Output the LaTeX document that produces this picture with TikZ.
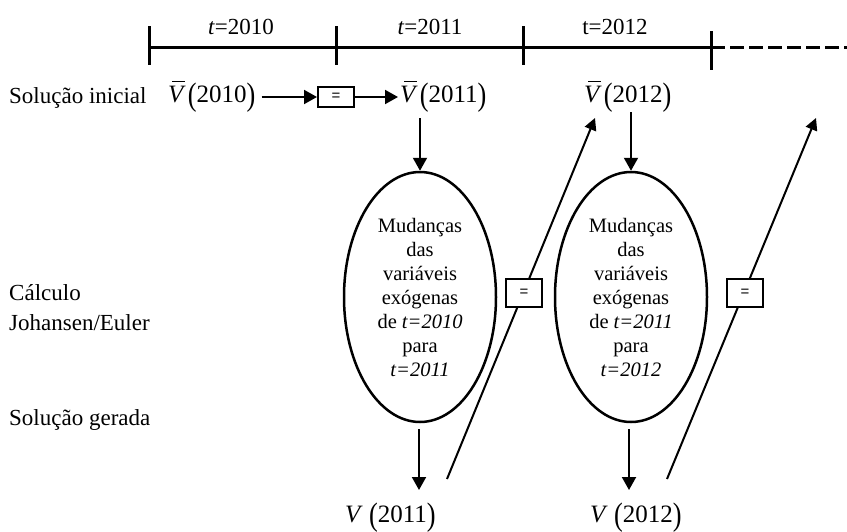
\documentclass[tikz,border=0pt]{standalone}
\usepackage{fontspec}
\usepackage{graphicx}
\setmainfont{Liberation Serif}
\newfontfamily\sansf{Liberation Sans}
\usetikzlibrary{arrows.meta,shapes.geometric}

% V with a bar over it, and tall parentheses
\newcommand\Vb{\makebox[0pt][l]{\kern0.17em\rule[0.80em]{0.5em}{0.05em}}\textit{V}}
\newcommand\pl{\kern0.08em\raisebox{-0.14em}{\scalebox{1.05}[1.3]{(}}}
\newcommand\pr{\raisebox{-0.14em}{\scalebox{1.05}[1.3]{)}}}

\begin{document}
\begin{tikzpicture}[x=1pt,y=-1pt,
  timeline/.style={line width=3pt},
  tickmark/.style={line width=3pt},
  conn/.style={line width=2pt,-{Triangle[length=13pt,width=14pt]}},
  diag/.style={line width=2pt,-{Triangle[length=12pt,width=12pt]}},
  eqbox/.style={draw,line width=2pt,fill=white,minimum width=36pt,minimum height=28pt,
    inner sep=0pt,font=\sansf\fontsize{15}{15}\selectfont},
  bubble/.style={draw,ellipse,line width=2.5pt,minimum width=152pt,minimum height=250pt,
    inner sep=0pt,align=center,font=\fontsize{20.5}{24}\selectfont},
  rowlabel/.style={anchor=base west,inner sep=0pt,font=\fontsize{23}{26}\selectfont},
  value/.style={anchor=base west,inner sep=0pt,font=\fontsize{25}{28}\selectfont},
  yearlabel/.style={anchor=base,inner sep=0pt,font=\fontsize{23}{26}\selectfont}]
\useasboundingbox (0,0) rectangle (847,531);

% time axis
\coordinate (t0) at (149,47);
\coordinate (t1) at (336,47);
\coordinate (t2) at (523,47);
\coordinate (t3) at (711,47);
\coordinate (tend) at (847,47);
\draw[timeline] (t0) -- (t3);
\draw[timeline,dash pattern=on 14pt off 5pt] (t3) -- (tend);
\draw[tickmark] ([yshift=21pt]t0) -- ([yshift=-18pt]t0);
\draw[tickmark] ([yshift=21pt]t1) -- ([yshift=-18pt]t1);
\draw[tickmark] ([yshift=21pt]t2) -- ([yshift=-18pt]t2);
\draw[tickmark] ([yshift=16pt]t3) -- ([yshift=-23pt]t3);
\node[yearlabel] (y10) at (241,34) {\textit{t}=2010};
\node[yearlabel] (y11) at (430,34) {\textit{t}=2011};
\node[yearlabel] (y12) at (615,34) {t=2012};

% row labels
\node[rowlabel] (r1) at (9,103) {Solução inicial};
\node[rowlabel] (r2) at (9,300) {Cálculo};
\node[rowlabel] (r3) at (9,330) {Johansen/Euler};
\node[rowlabel] (r4) at (9,425) {Solução gerada};

% initial solutions
\node[value] (v10) at (168,102) {\Vb\pl2010\pr};
\node[eqbox,minimum height=20pt,minimum width=36pt] (b0) at (336,97) {=};
\node[value] (v11) at (400,102) {\Vb\pl2011\pr};
\node[value] (v12) at (584,102) {\Vb\pl2012\pr};
\draw[conn] (v10.east |- b0) ++(6,0) coordinate (a0) (a0) -- (b0.west);
\draw[conn] (b0.east) -- ([xshift=-2pt]v11.west |- b0);

% Johansen/Euler steps
\node[bubble] (e1) at (420,297) {Mudanças\\das\\variáveis\\exógenas\\de \textit{t=2010}\\para\\\textit{t=2011}};
\node[bubble] (e2) at (631,297) {Mudanças\\das\\variáveis\\exógenas\\de \textit{t=2011}\\para\\\textit{t=2012}};
\coordinate (s1) at (420,118);
\coordinate (s2) at (631,112);
\draw[conn] (s1) -- (e1.north);
\draw[conn] (s2) -- (e2.north);

% generated solutions
\node[value] (g11) at (345,522) {\textit{V}\,\pl2011\pr};
\node[value] (g12) at (590,522) {\textit{V}\,\pl2012\pr};
\coordinate (o1) at (419,490);
\coordinate (o2) at (629,490);
\draw[conn] ([yshift=-6pt]e1.south -| o1) -- (o1);
\draw[conn] ([yshift=-6pt]e2.south -| o2) -- (o2);

% carry-over to the next period
\coordinate (d1s) at (447,479);
\coordinate (d1e) at (595,118);
\coordinate (d2s) at (667,479);
\coordinate (d2e) at (816,118);
\draw[diag] (d1s) -- (d1e);
\draw[diag] (d2s) -- (d2e);
\node[eqbox] (b1) at (524,293) {=};
\node[eqbox] (b2) at (745,293) {=};
\end{tikzpicture}
\end{document}
